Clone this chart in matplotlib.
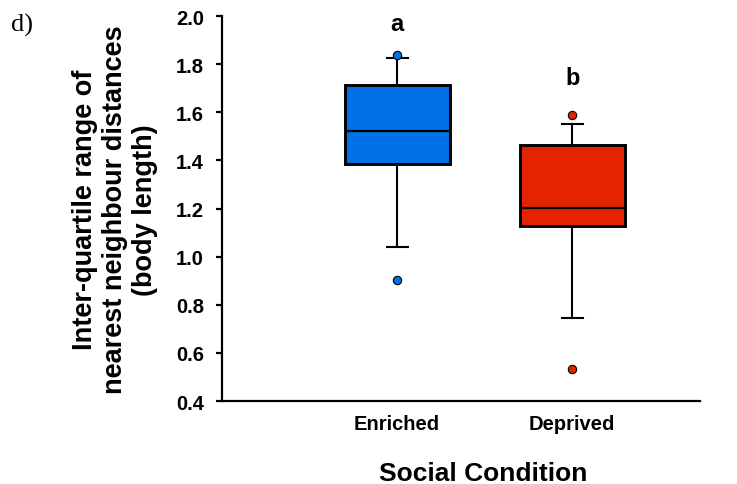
import matplotlib
matplotlib.use("Agg")
import matplotlib.pyplot as plt

# summary values
groups = ["Enriched", "Deprived"]
q1 = [1.386, 1.126]
med = [1.522, 1.201]
q3 = [1.713, 1.465]
whislo = [1.039, 0.744]
whishi = [1.825, 1.551]
fliers = [[1.839, 0.904], [1.590, 0.533]]
colors = ["#0072E6", "#E62300"]
letters = ["a", "b"]
letter_y = [1.967, 1.746]

plt.rcParams["font.family"] = ["Liberation Sans", "DejaVu Sans"]

fig = plt.figure(figsize=(7.37, 4.85), dpi=100)
ax = fig.add_axes([0.3012, 0.1711, 0.6486, 0.7938])

stats = []
for i, g in enumerate(groups):
    stats.append(dict(label=g, q1=q1[i], med=med[i], q3=q3[i],
                      whislo=whislo[i], whishi=whishi[i], fliers=fliers[i]))

pos = [1, 2]
bp = ax.bxp(stats, positions=pos, widths=0.6, patch_artist=True,
            showfliers=True, capwidths=0.12,
            boxprops=dict(linewidth=2.1, edgecolor="black"),
            medianprops=dict(color="black", linewidth=1.6),
            whiskerprops=dict(color="black", linewidth=1.5),
            capprops=dict(color="black", linewidth=1.5))
for box, c in zip(bp["boxes"], colors):
    box.set_facecolor(c)
for fl, c in zip(bp["fliers"], colors):
    fl.set(marker="o", markerfacecolor=c, markeredgecolor="black",
           markersize=6, markeredgewidth=0.8)

for p, t, y in zip(pos, letters, letter_y):
    ax.text(p, y, t, ha="center", va="center", fontsize=17, fontweight="bold")

ax.set_xlim(0, 2.73)
ax.set_ylim(0.4, 2.0)
ax.set_yticks([0.4, 0.6, 0.8, 1.0, 1.2, 1.4, 1.6, 1.8, 2.0])
ax.set_yticklabels([f"{v:.1f}" for v in ax.get_yticks()])
ax.set_xticks(pos)
ax.set_xticklabels(groups)

for s in ["top", "right"]:
    ax.spines[s].set_visible(False)
for s in ["left", "bottom"]:
    ax.spines[s].set_linewidth(1.6)

ax.tick_params(axis="y", direction="out", length=4, width=1.6, labelsize=14.5, pad=9)
ax.tick_params(axis="x", length=0, labelsize=14.5, pad=9)
for lab in ax.get_xticklabels() + ax.get_yticklabels():
    lab.set_fontweight("bold")

fig.text(115 / 737, 1 - 210 / 485,
         "Inter-quartile range of\nnearest neighbour distances\n(body length)",
         rotation=90, ha="center", va="center", fontsize=19.5,
         fontweight="bold", linespacing=1.18)
fig.text(483 / 737, 4 / 485, "Social Condition", ha="center", va="baseline",
         fontsize=19, fontweight="bold")
fig.text(11 / 737, 1 - 25 / 485, "d)", ha="left", va="center", fontsize=19,
         family=["Liberation Serif", "DejaVu Serif"])

fig.savefig("out.png", dpi=100)
